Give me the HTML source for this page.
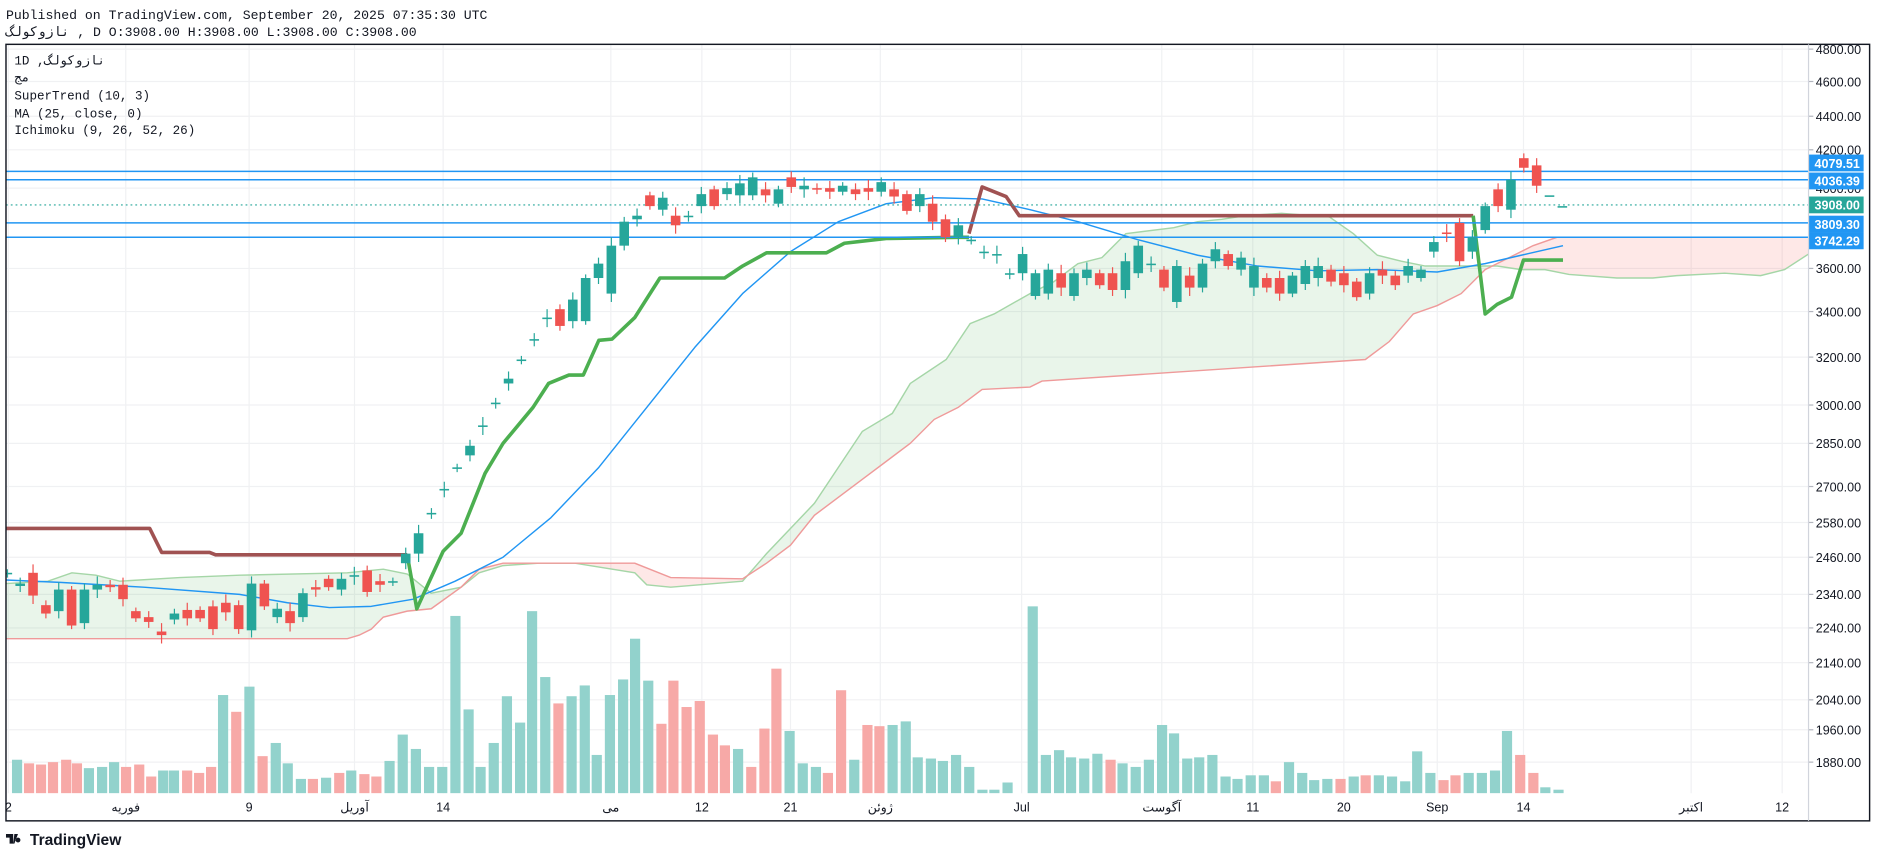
<!DOCTYPE html>
<html><head><meta charset="utf-8"><style>
html,body{margin:0;padding:0;background:#fff;}
svg{display:block}
text{font-family:"Liberation Sans","Noto Sans CJK SC",sans-serif;}
text.m{font-family:"Liberation Mono","DejaVu Sans Mono","Noto Sans CJK SC",monospace;}
</style></head><body>
<svg id="s" width="1878" height="858" viewBox="0 0 1568 716" preserveAspectRatio="none" xmlns="http://www.w3.org/2000/svg">
<rect width="1568" height="716" fill="#fff"/>
<text class="m" x="5" y="16" font-size="11" fill="#131722">Published on TradingView.com, September 20, 2025 07:35:30 UTC</text>
<text class="m" x="5" y="30" font-size="11" fill="#131722">نازوکولگ , D O:3908.00 H:3908.00 L:3908.00 C:3908.00</text>
<defs><clipPath id="pc"><rect x="5" y="37" width="1505" height="625"/></clipPath></defs>
<g id="grid"></g>
<g id="cloud" clip-path="url(#pc)"></g>
<g id="vol" clip-path="url(#pc)"></g>
<g id="lines" clip-path="url(#pc)"></g>
<g id="cnd" clip-path="url(#pc)"></g>
<g id="axis"></g>
<rect x="5" y="37" width="1556" height="648" fill="none" stroke="#131722" stroke-width="1.2"/>
<line x1="1510" y1="37" x2="1510" y2="685" stroke="#d1d4dc" stroke-width="1"/>
<g font-size="10.5" fill="#131722">
<text class="m" x="12" y="54">1D ,نازوکولگ</text>
<text class="m" x="12" y="68">مج</text>
<text class="m" x="12" y="83">SuperTrend (10, 3)</text>
<text class="m" x="12" y="98">MA (25, close, 0)</text>
<text class="m" x="12" y="112">Ichimoku (9, 26, 52, 26)</text>
</g>
<g transform="translate(5,694)">
<path d="M0 2 h6 v8 h-3 v-5 h-3z M7 2 h3 l-3 8 h-1z M10 5 a2 2 0 1 0 0.1 0z" fill="#131722"/>
<text x="20" y="11" font-size="13" font-weight="bold" fill="#131722">TradingView</text>
</g>
</svg>
<script>
var NS="http://www.w3.org/2000/svg";
function el(p,t,a,txt){var e=document.createElementNS(NS,t);for(var k in a)e.setAttribute(k,a[k]);if(txt!=null)e.textContent=txt;document.getElementById(p).appendChild(e);return e;}
var ticks=[[41,"4800.00"],[68,"4600.00"],[97,"4400.00"],[125,"4200.00"],[157,"4000.00"],[224,"3600.00"],[260,"3400.00"],[298,"3200.00"],[338,"3000.00"],[370,"2850.00"],[406,"2700.00"],[436,"2580.00"],[465,"2460.00"],[496,"2340.00"],[524,"2240.00"],[553,"2140.00"],[584,"2040.00"],[609,"1960.00"],[636,"1880.00"]];
ticks.forEach(function(t){el("grid","line",{x1:5,x2:1510,y1:t[0],y2:t[0],stroke:"#f0f1f3","stroke-width":1});
el("axis","line",{x1:1510,x2:1514,y1:t[0],y2:t[0],stroke:"#b2b5be"});
el("axis","text",{x:1516,y:t[0]+4,"font-size":"10.5",fill:"#131722"},t[1]);});
var dates=[[7,"2"],[105,"فوریه"],[208,"9"],[296,"آوریل"],[370,"14"],[510,"می"],[586,"12"],[660,"21"],[735,"ژوئن"],[853,"Jul"],[970,"آگوست"],[1046,"11"],[1122,"20"],[1200,"Sep"],[1272,"14"],[1412,"اکتبر"],[1488,"12"]];
dates.forEach(function(d){el("grid","line",{x1:d[0],x2:d[0],y1:37,y2:662,stroke:"#f0f1f3"});
el("axis","text",{x:d[0],y:677,"font-size":"10.5",fill:"#131722","text-anchor":"middle"},d[1]);});
var A=[[5,487],[40,485],[60,478],[80,480],[100,485],[150,482],[200,480],[290,478],[320,475],[340,479],[360,495],[385,490],[400,478],[420,472],[450,470],[480,470],[530,478],[540,488],[560,490],[620,485],[640,462],[680,420],[720,360],[745,345],[760,320],[790,300],[810,270],[830,262],[860,245],[880,235],[900,220],[920,215],[940,195],[980,190],[1000,185],[1020,183],[1040,180],[1070,178],[1110,181],[1130,195],[1150,213],[1170,218],[1190,222],[1220,222],[1250,222],[1270,225],[1290,225],[1310,229],[1350,232],[1380,232],[1400,230],[1440,228],[1470,230],[1490,225],[1510,212]];
var B=[[5,533],[290,533],[300,530],[310,525],[320,515],[340,510],[360,508],[385,490],[400,475],[420,470],[530,470],[560,482],[620,483],[640,470],[660,455],[680,430],[720,400],[760,370],[780,350],[800,340],[820,325],[860,323],[870,318],[1140,300],[1160,285],[1180,262],[1200,255],[1220,245],[1240,225],[1260,215],[1280,205],[1300,198],[1510,198]];
function pts(a){return a.map(function(p){return p[0]+","+p[1]}).join(" ");}
var between=pts(A)+" "+pts(B.slice().reverse());
var d=el("cloud","defs",{});
var c1=document.createElementNS(NS,"clipPath");c1.setAttribute("id","ab");d.appendChild(c1);
var p1=document.createElementNS(NS,"polygon");p1.setAttribute("points","5,0 "+pts(B)+" 1510,0");c1.appendChild(p1);
var c2=document.createElementNS(NS,"clipPath");c2.setAttribute("id","bl");d.appendChild(c2);
var p2=document.createElementNS(NS,"polygon");p2.setAttribute("points","5,716 "+pts(B)+" 1510,716");c2.appendChild(p2);
el("cloud","polygon",{points:between,fill:"rgba(76,175,80,0.12)","clip-path":"url(#ab)"});
el("cloud","polygon",{points:between,fill:"rgba(244,67,54,0.12)","clip-path":"url(#bl)"});
el("cloud","polyline",{points:pts(A),fill:"none",stroke:"#a5d6a7","stroke-width":1.2});
el("cloud","polyline",{points:pts(B),fill:"none",stroke:"#ef9a9a","stroke-width":1.2});
var V=[[14,634,"g"],[24,637,"r"],[34,638,"r"],[44,636,"r"],[55,634,"r"],[64,637,"r"],[74,641,"g"],[85,640,"g"],[95,636,"g"],[105,640,"r"],[116,638,"r"],[126,648,"r"],[136,643,"g"],[145,643,"g"],[156,643,"r"],[166,645,"r"],[176,640,"r"],[186,580,"g"],[197,594,"r"],[208,573,"g"],[219,631,"r"],[230,620,"g"],[240,637,"g"],[251,650,"g"],[261,650,"r"],[272,649,"g"],[283,645,"r"],[293,643,"g"],[304,646,"r"],[314,648,"r"],[325,635,"g"],[336,613,"g"],[347,625,"g"],[358,640,"g"],[369,640,"g"],[380,514,"g"],[391,592,"g"],[401,640,"g"],[412,620,"g"],[423,581,"g"],[434,603,"g"],[444,510,"g"],[455,565,"g"],[466,587,"r"],[477,581,"g"],[488,572,"g"],[498,630,"g"],[509,580,"g"],[520,567,"g"],[530,533,"g"],[541,568,"g"],[552,604,"r"],[562,568,"r"],[573,590,"r"],[584,585,"r"],[595,613,"r"],[605,622,"r"],[616,625,"g"],[627,640,"r"],[638,608,"r"],[648,558,"r"],[659,610,"g"],[670,637,"g"],[681,640,"g"],[691,645,"r"],[702,576,"r"],[713,634,"g"],[724,605,"r"],[734,606,"r"],[745,605,"g"],[756,602,"g"],[766,632,"g"],[777,633,"g"],[787,635,"g"],[798,630,"g"],[809,640,"g"],[820,659,"g"],[830,659,"g"],[841,653,"g"],[862,506,"g"],[873,630,"g"],[884,626,"g"],[894,632,"g"],[905,633,"g"],[916,629,"g"],[927,634,"r"],[937,637,"g"],[948,640,"g"],[959,634,"g"],[970,605,"g"],[980,612,"g"],[991,633,"g"],[1001,632,"g"],[1012,630,"g"],[1023,648,"g"],[1033,650,"g"],[1044,647,"g"],[1055,647,"g"],[1065,652,"r"],[1076,636,"g"],[1087,645,"g"],[1097,651,"g"],[1108,650,"g"],[1119,650,"r"],[1130,648,"g"],[1140,647,"r"],[1151,647,"g"],[1162,648,"g"],[1173,652,"g"],[1183,627,"g"],[1194,645,"g"],[1205,651,"r"],[1215,647,"r"],[1226,645,"g"],[1237,645,"g"],[1248,643,"g"],[1258,610,"g"],[1269,630,"r"],[1280,645,"r"],[1290,657,"g"],[1301,659,"g"]];
V.forEach(function(v){el("vol","rect",{x:v[0]-4,y:v[1],width:8.5,height:662-v[1],fill:v[2]=="g"?"#92d2cc":"#f7a9a7"});});
function pl(p,col,w){el("lines","polyline",{points:p,fill:"none",stroke:col,"stroke-width":w,"stroke-linejoin":"round"});}
pl("5,484 50,486 120,490 200,496 240,503 275,507 310,506 345,500 380,485 420,465 460,432 500,390 540,340 580,290 620,245 660,210 700,185 740,170 780,165 820,166 860,175 900,185 950,200 1000,213 1050,222 1100,226 1150,225 1200,227 1240,220 1270,213 1305,205","#2196f3",1.2);
pl("5,441 125,441 135,461 175,461 180,463 340,463","#a05252",3);
pl("340,463 348,508 370,460 385,445 395,420 405,395 420,370 445,340 458,320 475,313 487,313 500,284 511,283 530,265 551,232 605,232 620,222 640,211 690,211 705,203 740,199 800,198 809,198","#4caf50",3);
pl("809,195 820,156 840,164 851,180 1230,180","#a05252",3);
pl("1230,180 1240,262 1250,254 1262,248 1272,217 1305,217","#4caf50",3);
[[143,"4079.51"],[150,"4036.39"],[186,"3809.30"],[198,"3742.29"]].forEach(function(h){el("lines","line",{x1:5,x2:1510,y1:h[0],y2:h[0],stroke:"#2196f3","stroke-width":1.2});});
el("lines","line",{x1:5,x2:1510,y1:171,y2:171,stroke:"#26a69a","stroke-width":1,"stroke-dasharray":"1.5,2.5"});
[[136,"4079.51","#2196f3"],[151,"4036.39","#2196f3"],[171,"3908.00","#26a69a"],[187,"3809.30","#2196f3"],[201,"3742.29","#2196f3"]].forEach(function(l){
el("axis","rect",{x:1510,y:l[0]-7,width:46,height:14,fill:l[2]});
el("axis","text",{x:1515,y:l[0]+4,"font-size":"10.5","font-weight":"bold",fill:"#fff"},l[1]);});
var C=[[478,479,"g"],[487,489,"g"],[478,497,"r"],[505,512,"r"],[492,510,"g"],[492,522,"r"],[492,520,"g"],[488,492,"g"],[488,490,"r"],[488,500,"r"],[510,516,"r"],[515,519,"r"],[527,530,"r"],[512,517,"g"],[509,516,"r"],[509,516,"r"],[506,525,"r"],[503,511,"r"],[505,525,"r"],[487,526,"g"],[487,506,"r"],[508,515,"g"],[510,520,"r"],[495,515,"g"],[490,492,"r"],[483,490,"r"],[483,492,"g"],[480,481,"g"],[476,494,"r"],[485,488,"r"],[485,486,"g"],[462,470,"g"],[445,462,"g"],
[428,429,"g"],[408,409,"g"],[390,391,"g"],[372,380,"g"],[355,356,"g"],[336,337,"g"],[316,320,"g"],[300,301,"g"],[283,284,"g"],[265,266,"g"],[258,272,"r"],[250,268,"g"],[232,268,"g"],[220,232,"g"],[205,245,"g"],[185,205,"g"],[180,183,"g"],[163,172,"r"],[165,175,"g"],[180,188,"r"],[180,181,"g"],[162,172,"g"],[158,172,"r"],[157,162,"g"],[153,163,"g"],[148,163,"g"],[158,163,"r"],[158,170,"g"],[148,156,"r"],[155,158,"g"],[157,158,"r"],[157,160,"r"],[155,160,"g"],[158,162,"r"],[157,160,"r"],[152,160,"g"],[158,164,"r"],[162,176,"r"],[162,172,"g"],[170,185,"r"],[183,198,"r"],[188,198,"g"],[200,201,"g"],[210,211,"g"],[212,213,"g"],[228,229,"g"],[212,228,"g"],[228,247,"g"],[225,245,"g"],[228,240,"r"],[228,247,"g"],[225,232,"g"],[228,238,"r"],[228,242,"r"],[218,242,"g"],[205,228,"g"],[220,221,"g"],[225,240,"r"],[222,252,"g"],[230,240,"r"],[220,240,"g"],[208,218,"g"],[212,222,"r"],[215,225,"g"],[222,240,"g"],[232,240,"r"],[232,245,"r"],[230,245,"g"],[222,237,"g"],[222,232,"g"],[225,235,"r"],[228,238,"r"],[235,248,"r"],[228,245,"g"],[225,230,"r"],[230,238,"r"],[222,230,"g"],[225,232,"g"],[202,210,"g"],[194,195,"r"],[186,218,"r"],[198,210,"g"],[172,192,"g"],[158,172,"r"],[150,175,"g"],[132,140,"r"],[138,155,"r"],[163,163,"g"],[172,172,"g"]];
var n=C.length;
C.forEach(function(c,i){var x=1283-(n-3-i)*10.73;var col=c[2]=="g"?"#26a69a":"#ef5350";
var h=c[1]-c[0];var ext=i>=n-2?0:3+((i*7)%5);
if(ext>0)el("cnd","line",{x1:x,x2:x,y1:c[0]-ext,y2:c[1]+ext,stroke:col,"stroke-width":1});
el("cnd","rect",{x:x-4,y:c[0],width:8,height:Math.max(h,1.3),fill:col});});
</script>
</body></html>
